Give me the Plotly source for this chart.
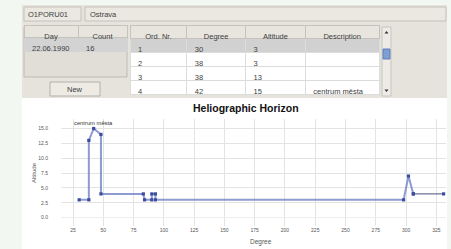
import plotly.graph_objects as go

# ---------------- data ----------------
station_code = "O1PORU01"
station_name = "Ostrava"
days = ["22.06.1990"]
day_counts = ["16"]

ord_nr = [str(i) for i in range(1, 17)]
degree = [30, 38, 38, 42, 48, 48, 83, 84, 90, 90, 93, 93, 298, 302, 306, 331]
altitude = [3, 3, 13, 15, 14, 4, 4, 3, 3, 4, 4, 3, 3, 7, 4, 4]
description = ["", "", "", "centrum města", "", "", "", "", "", "", "", "", "", "", "", ""]

x_ticks = [25, 50, 75, 100, 125, 150, 175, 200, 225, 250, 275, 300, 325]
y_ticks = [0.0, 2.5, 5.0, 7.5, 10.0, 12.5, 15.0]

W, H = 451, 249
FONT = "Liberation Sans"
TXT = "#404040"


def X(px):
    return px / W


def Y(py):
    return 1 - py / H


fig = go.Figure()

# ---------------- chart ----------------
fig.add_trace(go.Scatter(
    x=degree[:15], y=altitude[:15], mode="lines+markers",
    line=dict(color="rgba(110,127,198,0.78)", width=2),
    marker=dict(symbol="square", size=3.2, color="#3b4c9e"),
    hoverinfo="x+y", showlegend=False, xaxis="x", yaxis="y"))
fig.add_trace(go.Scatter(
    x=degree[14:], y=altitude[14:], mode="lines+markers",
    line=dict(color="#4a4f7c", width=1),
    marker=dict(symbol="square", size=3.2, color="#3b4c9e"),
    hoverinfo="x+y", showlegend=False, xaxis="x", yaxis="y"))

# ---------------- tables ----------------
visible = 4
row_fill = ["#d1d1d1"] + ["#ffffff"] * (visible - 1)
fig.add_trace(go.Table(
    domain=dict(x=[X(130), X(380)], y=[Y(96), Y(25)]),
    columnwidth=[57, 59, 60, 74],
    header=dict(values=["Ord. Nr.", "Degree", "Altitude", "Description"],
                height=13, align="center",
                fill=dict(color="#e8e5de"), line=dict(color="#c6c3bc", width=1),
                font=dict(family=FONT, size=7.5, color=TXT)),
    cells=dict(values=[ord_nr[:visible], [str(d) for d in degree[:visible]],
                       [str(a) for a in altitude[:visible]], description[:visible]],
               height=14, align="left",
               fill=dict(color=[row_fill] * 4), line=dict(color="#dcdcdc", width=1),
               font=dict(family=FONT, size=7.5, color=TXT))))

fig.add_trace(go.Table(
    domain=dict(x=[X(24), X(127)], y=[Y(77), Y(25)]),
    columnwidth=[54, 49],
    header=dict(values=["Day", "Count"], height=12, align="center",
                fill=dict(color="#e8e5de"), line=dict(color="#c6c3bc", width=1),
                font=dict(family=FONT, size=7.5, color=TXT)),
    cells=dict(values=[days, day_counts], height=14, align="left",
               fill=dict(color="#d3d3d3"), line=dict(color="#d3d3d3", width=1),
               font=dict(family=FONT, size=7.5, color=TXT))))

# ---------------- UI decoration ----------------
shapes = [
    dict(type="rect", x0=X(22), x1=X(447), y0=Y(98), y1=Y(5), fillcolor="#e6e3dc", line_width=0),
    dict(type="rect", x0=X(22), x1=X(447), y0=Y(249), y1=Y(98), fillcolor="#ffffff", line_width=0),
    dict(type="rect", x0=X(24), x1=X(81), y0=Y(21), y1=Y(7), fillcolor="#ebe8e1", line=dict(color="#c4c1ba", width=1)),
    dict(type="rect", x0=X(85), x1=X(446), y0=Y(21), y1=Y(7), fillcolor="#ebe8e1", line=dict(color="#c4c1ba", width=1)),
    dict(type="rect", x0=X(24), x1=X(127), y0=Y(77), y1=Y(27), fillcolor="#e1ded7", line=dict(color="#bdbab3", width=1)),
    dict(type="rect", x0=X(50), x1=X(100), y0=Y(96), y1=Y(82), fillcolor="#eeebe5", line=dict(color="#b3b0a9", width=1)),
    dict(type="rect", x0=X(382), x1=X(391), y0=Y(96), y1=Y(27), fillcolor="#ecebe6", line=dict(color="#c8c5be", width=1)),
    dict(type="rect", x0=X(383), x1=X(390), y0=Y(59), y1=Y(49), fillcolor="#7d9dd4", line=dict(color="#5f7fb8", width=1)),
    dict(type="path", path=f"M {X(384.5)} {Y(33.5)} L {X(388.5)} {Y(33.5)} L {X(386.5)} {Y(31)} Z",
         fillcolor="#333333", line_width=0),
    dict(type="path", path=f"M {X(384.5)} {Y(89.5)} L {X(388.5)} {Y(89.5)} L {X(386.5)} {Y(92)} Z",
         fillcolor="#333333", line_width=0),
]
for s in shapes:
    s.update(xref="paper", yref="paper", layer="below")

annotations = [
    dict(x=X(26), y=Y(14), text=station_code, xanchor="left", yanchor="middle"),
    dict(x=X(88), y=Y(14), text=station_name, xanchor="left", yanchor="middle"),
    dict(x=X(75), y=Y(89), text="New", xanchor="center", yanchor="middle"),
]
for a in annotations:
    a.update(xref="paper", yref="paper", showarrow=False,
             font=dict(family=FONT, size=7.5, color=TXT))

annotations += [
    dict(x=X(246), y=Y(107.5), xref="paper", yref="paper", showarrow=False,
         text="<b>Heliographic Horizon</b>", xanchor="center", yanchor="middle",
         font=dict(family=FONT, size=10.5, color="#111111")),
    dict(x=X(34), y=Y(173), xref="paper", yref="paper", showarrow=False,
         text="Altitude", textangle=-90, xanchor="center", yanchor="middle",
         font=dict(family=FONT, size=6, color="#555555")),
    dict(x=X(261), y=Y(241.5), xref="paper", yref="paper", showarrow=False,
         text="Degree", xanchor="center", yanchor="middle",
         font=dict(family=FONT, size=6.5, color="#555555")),
]
for d, a, t in zip(degree, altitude, description):
    if t:
        annotations.append(dict(x=d, y=a, xref="x", yref="y", text=t, showarrow=False,
                                xanchor="center", yanchor="bottom", yshift=1,
                                font=dict(family=FONT, size=5.8, color="#333333")))

fig.update_layout(
    width=W, height=H,
    margin=dict(l=0, r=0, t=0, b=0),
    paper_bgcolor="#f2f7f2",
    plot_bgcolor="#d5d5d5",
    shapes=shapes, annotations=annotations,
    xaxis=dict(domain=[X(61), X(446)], range=[15, 333], tickvals=x_ticks,
               showgrid=True, gridcolor="#e3e3e3", gridwidth=1, zeroline=False,
               showline=False, ticks="", tickfont=dict(family=FONT, size=5, color="#555555"),
               anchor="y", fixedrange=True),
    yaxis=dict(domain=[Y(226), Y(119)], range=[-1.4, 16.6], tickvals=y_ticks, tickformat=".1f",
               showgrid=True, gridcolor="#e3e3e3", gridwidth=1, zeroline=True,
               zerolinecolor="#eeeeee", zerolinewidth=1, showline=False, ticks="",
               ticklabelstandoff=12,
               tickfont=dict(family=FONT, size=5, color="#555555"),
               anchor="x", fixedrange=True),
)

fig.write_html("out.html", config={"displayModeBar": False},
               post_script="document.body.style.margin='0';document.body.style.overflow='hidden';")
